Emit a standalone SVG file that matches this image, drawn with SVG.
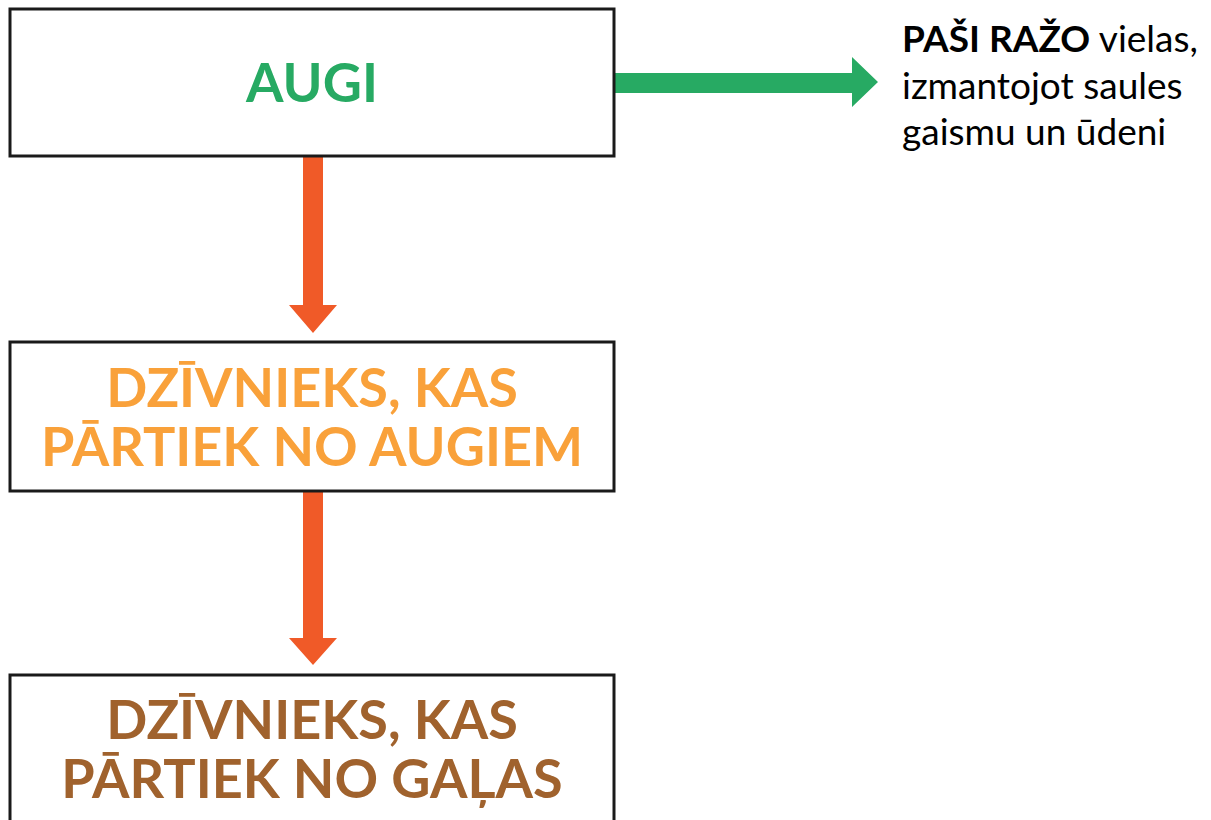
<svg xmlns="http://www.w3.org/2000/svg" width="1211" height="820" viewBox="0 0 1211 820">
<style>
.box{fill:#fff;stroke:#1a1a1a;stroke-width:3}
.t{font-family:Lato,"Open Sans",sans-serif;font-weight:700;font-size:54px;text-anchor:middle}
.side{font-family:Lato,"Open Sans",sans-serif;font-size:37px;fill:#000}
.b{font-weight:700}
</style>
<rect width="1211" height="820" fill="#fff"/>
<g id="connectors">
<polygon fill="#F05A28" points="303,156 323,156 323,305 337,305 313,333 289,305 303,305"/>
<polygon fill="#F05A28" points="303,491 323,491 323,638 337,638 313,665 289,638 303,638"/>
<polygon fill="#27AA63" points="614,73 852,73 852,57 878,82 852,107 852,93 614,93"/>
</g>
<g id="node-augi">
<rect class="box" x="10" y="9" width="604" height="147"/>
<text class="t" x="312" y="102" fill="#27AA63" font-size="55">AUGI</text>
</g>
<g id="node-zalēdājs">
<rect class="box" x="10" y="342" width="604" height="149"/>
<text class="t" x="312" y="407" fill="#F9A13A">DZĪVNIEKS, KAS</text>
<text class="t" x="312" y="466" fill="#F9A13A">PĀRTIEK NO AUGIEM</text>
</g>
<g id="node-gaļēdājs">
<rect class="box" x="10" y="675" width="604" height="160"/>
<text class="t" x="312" y="739" fill="#A0622D">DZĪVNIEKS, KAS</text>
<text class="t" x="312" y="798" fill="#A0622D">PĀRTIEK NO GAĻAS</text>
</g>
<g id="label-augi">
<text class="side" x="902" y="52"><tspan class="b">PAŠI RAŽO</tspan> vielas,</text>
<text class="side" x="902" y="99">izmantojot saules</text>
<text class="side" x="902" y="145">gaismu un ūdeni</text>
</g>
</svg>
